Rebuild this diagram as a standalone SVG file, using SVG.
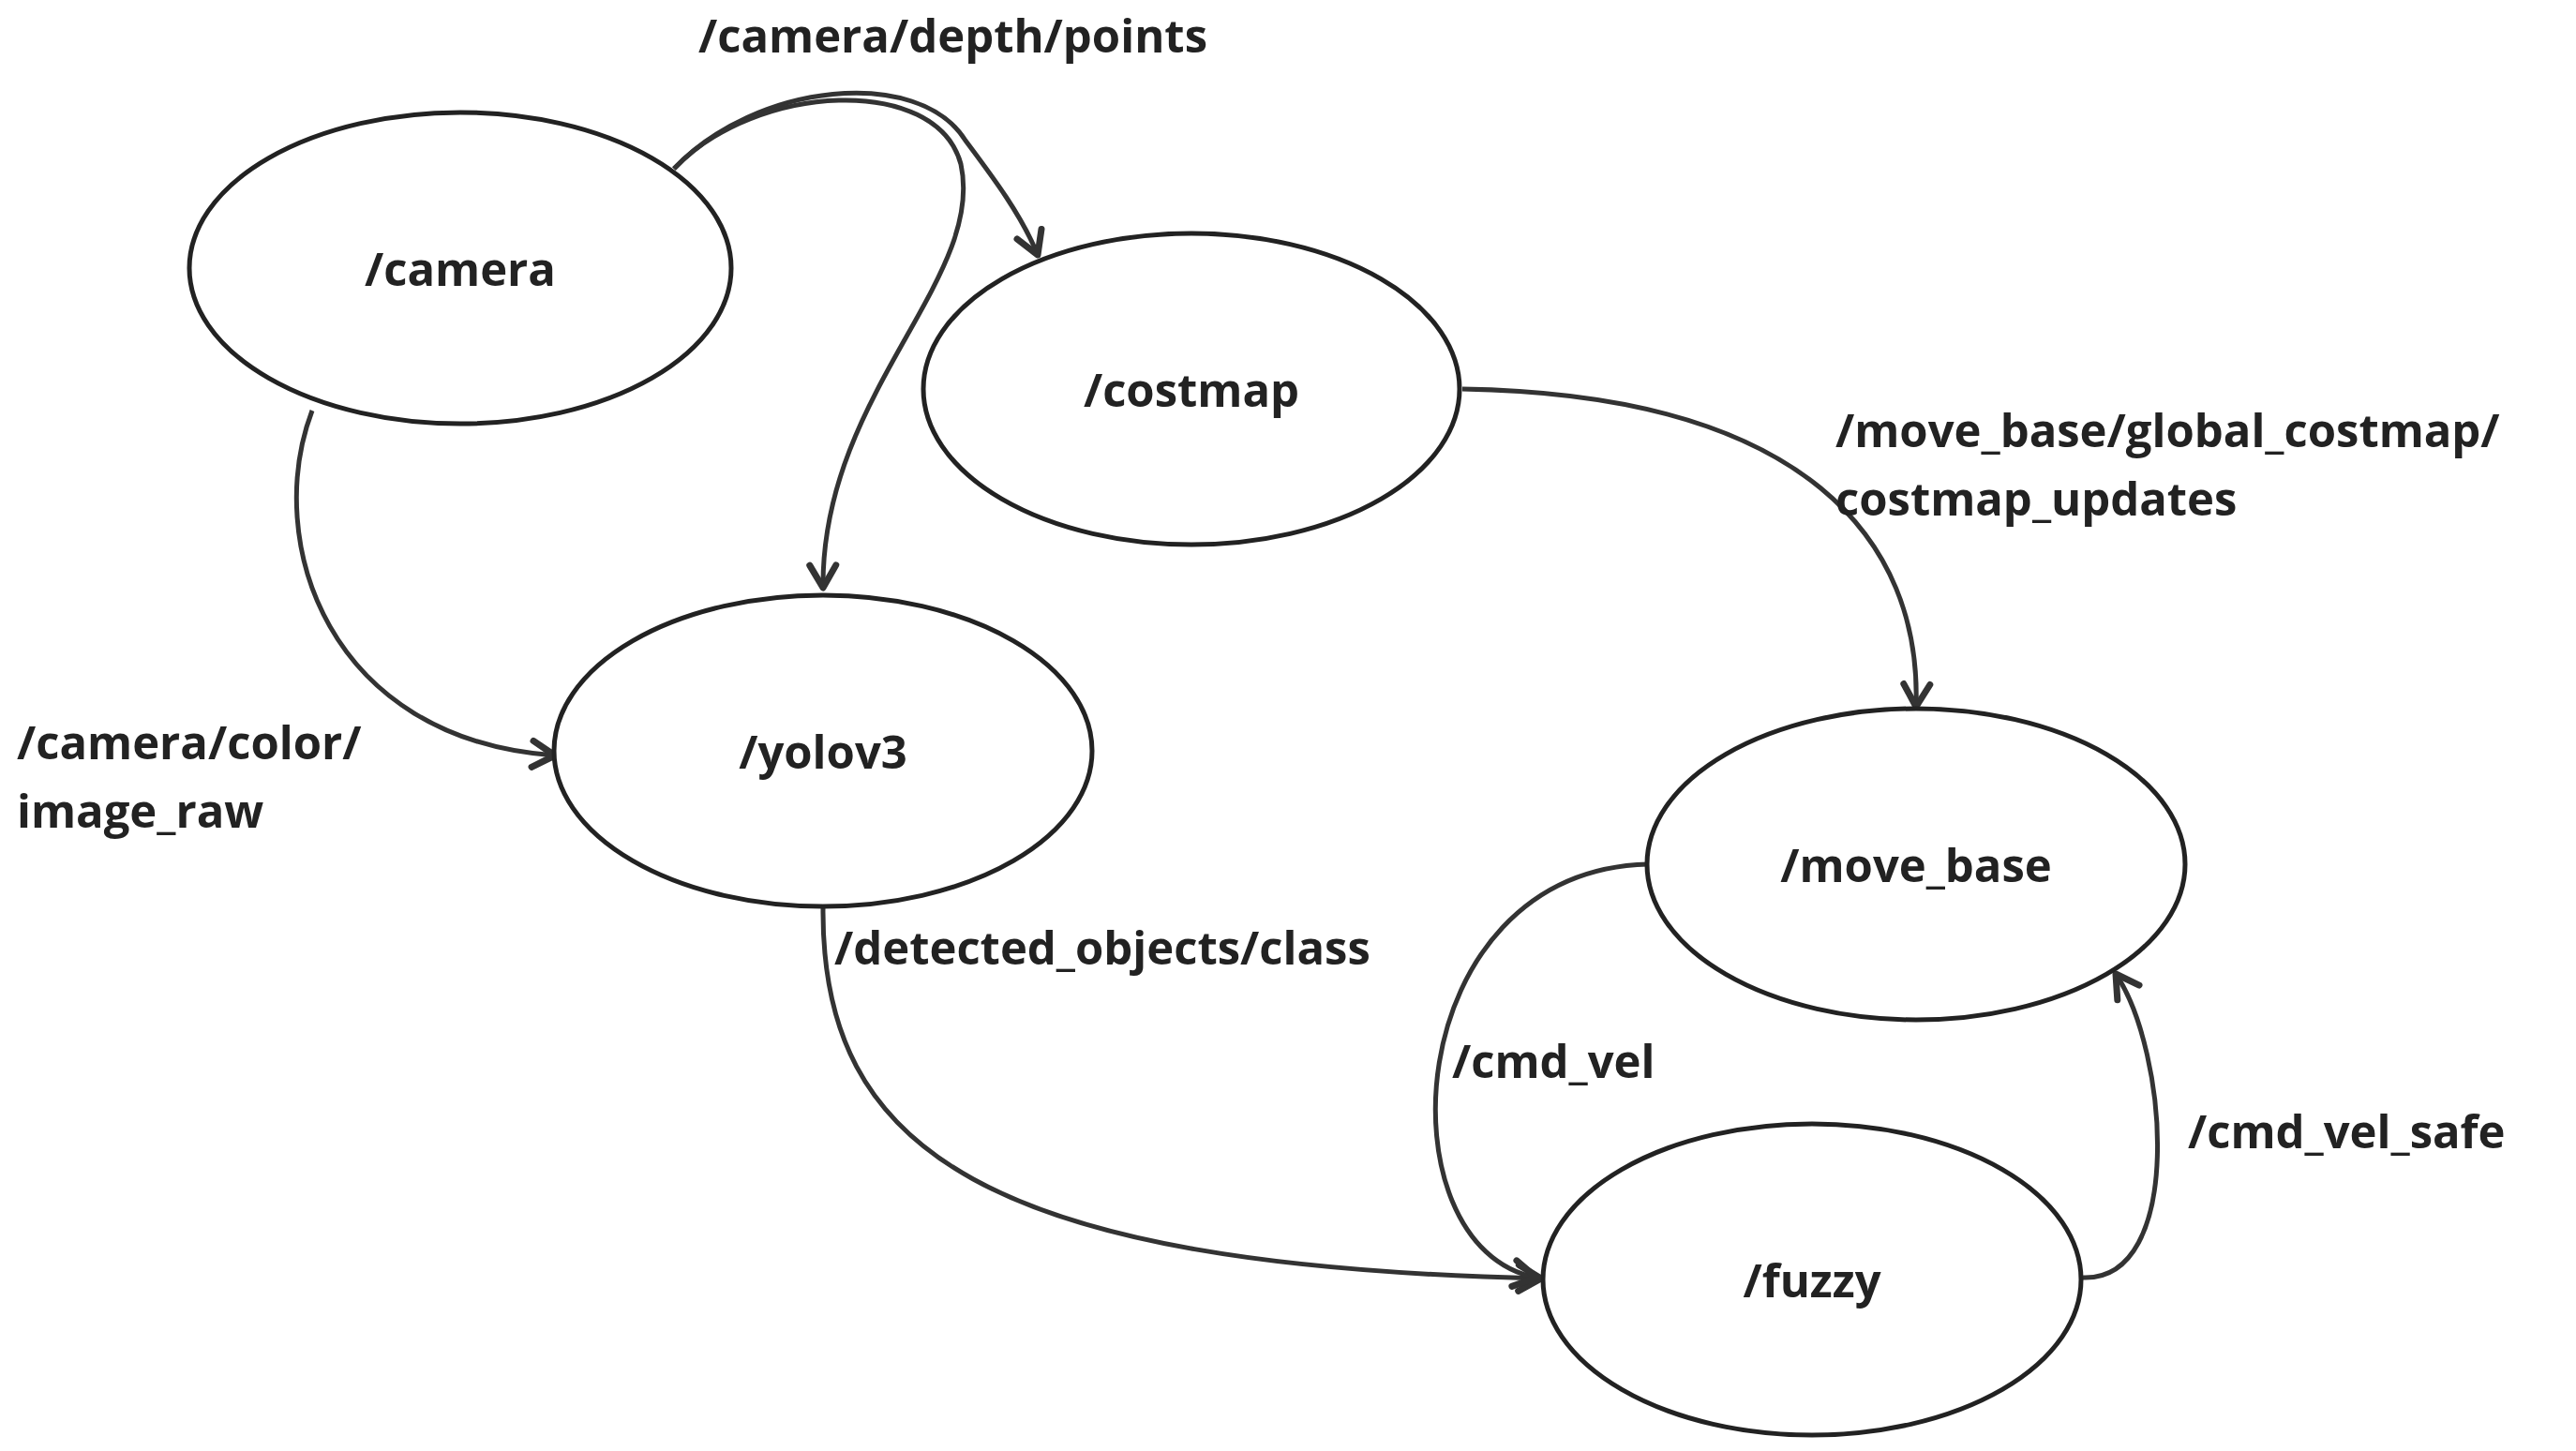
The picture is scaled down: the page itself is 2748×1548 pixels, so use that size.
<svg xmlns="http://www.w3.org/2000/svg" width="2748" height="1548" viewBox="0 0 2748 1548">
<style>
.n{fill:#fff;stroke:#222;stroke-width:5}
.t{font-family:"Open Sans","Noto Sans",sans-serif;font-weight:bold;font-size:49px;fill:#222}
.c{text-anchor:middle;dominant-baseline:central}
.e{fill:none;stroke:#333;stroke-width:5}
</style>
<defs>
<marker id="a" viewBox="0 0 20 20" refX="16" refY="10" markerWidth="8" markerHeight="8" orient="auto" markerUnits="strokeWidth">
<path d="M4,3 L16,10 L4,17" fill="none" stroke="#333" stroke-width="3.5" stroke-linecap="round" stroke-linejoin="round"/>
</marker>
</defs>
<rect width="2748" height="1548" fill="#fff"/>
<g id="connectors">
<path class="e" marker-end="url(#a)" d="M719,180 C806,88 980,70 1030,150 C1060,190 1090,230 1107,272"/>
<path class="e" marker-end="url(#a)" d="M719,180 C806,88 999,79 1025,175 C1052,298 876,421 878,627"/>
<path class="e" marker-end="url(#a)" d="M333,438 C280,578 350,789 592,806"/>
<path class="e" marker-end="url(#a)" d="M1560,415 C1928,421 2050,578 2044,754"/>
<path class="e" marker-end="url(#a)" d="M878,969 C876,1227 1052,1350 1644,1364"/>
<path class="e" marker-end="url(#a)" d="M1758,922 C1490,929 1472,1332 1639,1363"/>
<path class="e" marker-end="url(#a)" d="M2222,1363 C2331,1367 2313,1122 2257,1039"/>
<text class="t" x="745" y="56">/camera/depth/points</text>
<text class="t" x="1958" y="477">/move_base/global_costmap/</text>
<text class="t" x="1958" y="550">costmap_updates</text>
<text class="t" x="18" y="810">/camera/color/</text>
<text class="t" x="18" y="883">image_raw</text>
<text class="t" x="890" y="1029">/detected_objects/class</text>
<text class="t" x="1549" y="1150">/cmd_vel</text>
<text class="t" x="2334" y="1225">/cmd_vel_safe</text>
</g>
<g id="camera"><ellipse class="n" cx="491" cy="286" rx="289" ry="166"/><text class="t c" x="491" y="286">/camera</text></g>
<g id="costmap"><ellipse class="n" cx="1271" cy="415" rx="286" ry="166"/><text class="t c" x="1271" y="415">/costmap</text></g>
<g id="yolov3"><ellipse class="n" cx="878" cy="801" rx="287" ry="166"/><text class="t c" x="878" y="801">/yolov3</text></g>
<g id="move_base"><ellipse class="n" cx="2044" cy="922" rx="287" ry="166"/><text class="t c" x="2044" y="922">/move_base</text></g>
<g id="fuzzy"><ellipse class="n" cx="1933" cy="1365" rx="287" ry="166"/><text class="t c" x="1933" y="1365">/fuzzy</text></g>
</svg>
